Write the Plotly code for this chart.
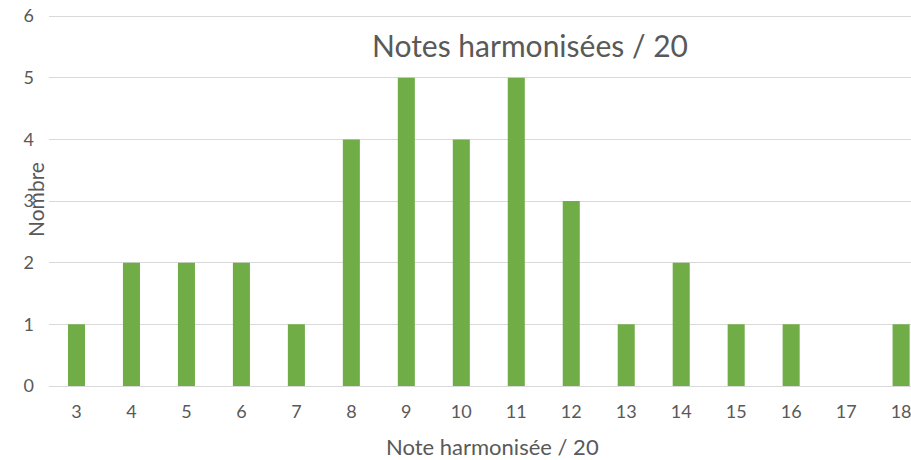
import plotly.graph_objects as go

categories = ["3", "4", "5", "6", "7", "8", "9", "10", "11", "12", "13", "14", "15", "16", "17", "18"]
counts = [1, 2, 2, 2, 1, 4, 5, 4, 5, 3, 1, 2, 1, 1, 0, 1]
y_ticks = [0, 1, 2, 3, 4, 5, 6]

title_text = "Notes harmonisées / 20"
x_title = "Note harmonisée / 20"
y_title = "Nombre"

FONT = "Lato, 'Open Sans', sans-serif"
GRAY = "#595959"

L, T, B = 49, 13, 74
W, H = 911, 460
PW, PH = W - L, H - T - B  # 862 x 373
Y_TOP = 6.05


def px(xp):
    return (xp - L) / PW


def py(yp):
    return (H - B - yp) / PH


fig = go.Figure(go.Bar(x=categories, y=counts, marker_color="#70ad47",
                       marker_line_width=0, width=0.31))

fig.update_layout(
    width=W, height=H,
    margin=dict(l=L, r=0, t=T, b=B, autoexpand=False),
    paper_bgcolor="white", plot_bgcolor="white",
    showlegend=False,
    font=dict(family=FONT, color=GRAY, size=18),
    xaxis=dict(type="category", range=[-0.5, 15.18], showgrid=False,
               showline=True, linecolor="#d9d9d9", linewidth=1,
               ticks="", tickfont=dict(size=18, color=GRAY), ticklabelstandoff=9,
               ticklabeloverflow="allow"),
    yaxis=dict(range=[0, Y_TOP], tickvals=y_ticks, showgrid=True, gridcolor="#d9d9d9",
               gridwidth=1, zeroline=False, showline=False, ticks="",
               tickfont=dict(size=18, color=GRAY), ticklabelstandoff=14),
    annotations=[
        dict(text=title_text, xref="paper", yref="paper", x=px(530), y=py(45),
             showarrow=False, font=dict(size=30, color=GRAY, family=FONT),
             xanchor="center", yanchor="middle"),
        dict(text=x_title, xref="paper", yref="paper", x=px(493), y=py(446),
             showarrow=False, font=dict(size=22, color=GRAY, family=FONT),
             xanchor="center", yanchor="middle"),
        dict(text=y_title, xref="paper", yref="paper", x=px(35), y=py(200),
             showarrow=False, textangle=-90, font=dict(size=21, color=GRAY, family=FONT),
             xanchor="center", yanchor="middle"),
    ],
)

fig.write_html("out.html", config={"displayModeBar": False},
               post_script="document.body.style.margin='0';document.body.style.overflow='hidden';")
